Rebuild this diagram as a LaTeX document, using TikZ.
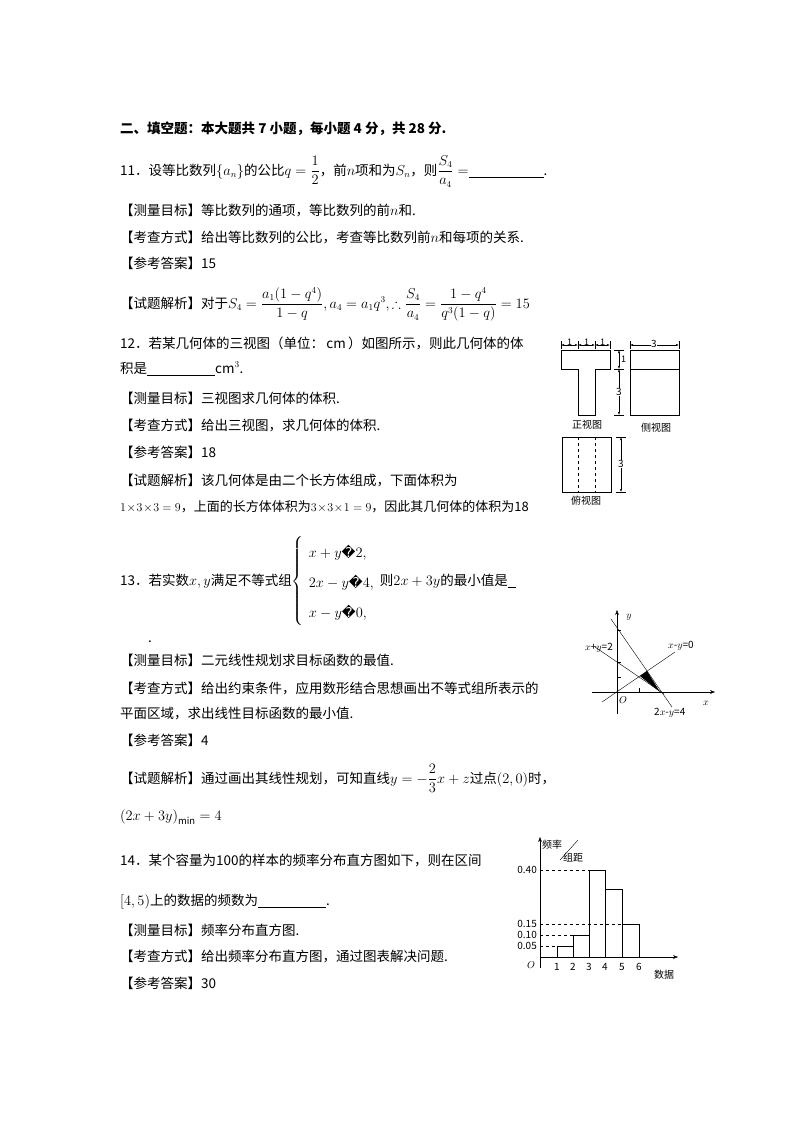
\documentclass[tikz,border=0pt]{standalone}
\usepackage{amsmath,amssymb}
\usepackage{fontspec}
\setmainfont{Noto Sans CJK SC}
\newfontfamily\symf{DejaVu Sans}
\usetikzlibrary{arrows.meta}
\newcommand{\rep}{\mbox{\symf\char"FFFD}}
\begin{document}
\begin{tikzpicture}[x=1pt,y=-1pt,
  txt/.style={anchor=base west,inner sep=0pt,font=\fontsize{13.5}{16}\selectfont},
  lab/.style={inner sep=0pt,font=\fontsize{10}{12}\selectfont},
  dim/.style={{Latex[length=3pt,width=2pt]}-{Latex[length=3pt,width=2pt]},thin},
  ax/.style={-{Stealth[length=5pt]},thin},
  thinline/.style={line width=0.7pt}]
\fill[white] (0,0) rectangle (800,1132);
\useasboundingbox (0,0) rectangle (800,1132);
% Text
\node[txt,font=\fontsize{13.5}{16}\selectfont\bfseries] (h) at (120,133) {二、填空题：本大题共 7 小题，每小题 4 分，共 28 分.};
\node[txt] (t11) at (120,175) {11．设等比数列$\{a_n\}$的公比$q=\dfrac{1}{2}$，前$n$项和为$S_n$，则$\dfrac{S_4}{a_4}=$\underline{\hspace{75pt}}.};
\node[txt] (a1) at (120,215) {【测量目标】等比数列的通项，等比数列的前$n$和.};
\node[txt] (a2) at (120,242) {【考查方式】给出等比数列的公比，考查等比数列前$n$和每项的关系.};
\node[txt] (a3) at (120,268) {【参考答案】15};
\node[txt] (a4) at (120,308) {【试题解析】对于$S_4=\dfrac{a_1(1-q^4)}{1-q},a_4=a_1q^3,\therefore\dfrac{S_4}{a_4}=\dfrac{1-q^4}{q^3(1-q)}=15$};
\node[txt] (t12) at (120,348) {12．若某几何体的三视图（单位：\,cm\,）如图所示，则此几何体的体};
\node[txt] (t12b) at (120,373) {积是\underline{\hspace{68pt}}cm$^3$.};
\node[txt] (b1) at (120,403) {【测量目标】三视图求几何体的体积.};
\node[txt] (b2) at (120,430) {【考查方式】给出三视图，求几何体的体积.};
\node[txt] (b3) at (120,457) {【参考答案】18};
\node[txt] (b4) at (120,485) {【试题解析】该几何体是由二个长方体组成，下面体积为};
\node[txt,font=\fontsize{13}{16}\selectfont] (b5) at (120,511) {$1\!\times\!3\!\times\!3=9$，上面的长方体体积为$3\!\times\!3\!\times\!1=9$，因此其几何体的体积为18};
\node[txt] (t13) at (120,585) {13．若实数$x,y$满足不等式组$\renewcommand{\arraystretch}{1.9}\left\{\begin{array}{l}x+y\rep 2,\\2x-y\rep 4,\\x-y\rep 0,\end{array}\right.$则$2x+3y$的最小值是\underline{\hspace{8pt}}};
\node[txt] (dot) at (148,642) {.};
\node[txt] (c1) at (120,665) {【测量目标】二元线性规划求目标函数的最值.};
\node[txt] (c2) at (120,693) {【考查方式】给出约束条件，应用数形结合思想画出不等式组所表示的};
\node[txt] (c3) at (120,718) {平面区域，求出线性目标函数的最小值.};
\node[txt] (c4) at (120,745) {【参考答案】4};
\node[txt] (c5) at (120,783) {【试题解析】通过画出其线性规划，可知直线$y=-\dfrac{2}{3}x+z$过点$\left(2,0\right)$时，};
\node[txt] (c6) at (120,820) {$\left(2x+3y\right)_{\min}=4$};
\node[txt] (t14) at (120,865) {14．某个容量为100的样本的频率分布直方图如下，则在区间};
\node[txt] (t14b) at (120,905) {$[4,5)$上的数据的频数为\underline{\hspace{68pt}}.};
\node[txt] (d1) at (120,935) {【测量目标】频率分布直方图.};
\node[txt] (d2) at (120,961) {【考查方式】给出频率分布直方图，通过图表解决问题.};
\node[txt] (d3) at (120,988) {【参考答案】30};
% Three views
\draw[thinline] (561,350) -- (610,350) -- (610,369) -- (595,369) -- (595,415) -- (578,415) -- (578,369) -- (561,369) -- cycle;
\foreach \a/\b in {561/578,578/595,595/610}{\draw[dim] (\a,345) -- (\b,345);}
\foreach \x in {561,578,595,610}{\draw[thin] (\x,341) -- (\x,349);}
\foreach \x in {569.5,586.5,602.5}{\node[lab,fill=white,font=\fontsize{9}{10}\selectfont] at (\x,342) {1};}
\draw[dim] (619,350) -- (619,369); \draw[dim] (619,369) -- (619,415);
\draw[thin] (614,350) -- (624,350); \draw[thin] (614,369) -- (624,369); \draw[thin] (614,415) -- (624,415);
\node[lab,anchor=west,font=\fontsize{9}{10}\selectfont] at (621,359) {1}; \node[lab,fill=white] at (619,392) {3};
\draw[thinline] (630,350) rectangle (679,415); \draw[thinline] (630,369) -- (679,369);
\draw[dim] (630,345) -- (679,345); \draw[thin] (630,341) -- (630,349); \draw[thin] (679,341) -- (679,349);
\node[lab,fill=white] at (654,344) {3};
\node[lab] (zv) at (587,425) {正视图}; \node[lab] (cv) at (656,428) {侧视图};
\draw[thinline] (562,437) rectangle (611,492);
\draw[dashed,thin] (578,437) -- (578,492); \draw[dashed,thin] (595,437) -- (595,492);
\draw[dim] (621,437) -- (621,492); \draw[thin] (616,437) -- (626,437); \draw[thin] (616,492) -- (626,492);
\node[lab,fill=white] at (621,464) {3};
\node[lab] (fv) at (586,501) {俯视图};
% Linear programming graph
\draw[ax] (592,692) -- (715,692); \draw[ax] (617,714) -- (617,610);
\draw[thin] (639,692) -- (639,688); \draw[thin] (617,677) -- (621,677); \draw[thin] (617,662) -- (621,662); \draw[thin] (617,630) -- (621,630);
\fill (640,676) -- (647,671) -- (660,692) -- cycle;
\draw[thin] (595,647) -- (664,694);
\draw[thin] (611,619) -- (672,707);
\draw[thin] (602,702) -- (675,652);
\node[lab,anchor=east] at (613,648) {$x$+$y$=2};
\node[lab,anchor=west] at (668,646) {$x$-$y$=0};
\node[lab,anchor=west] at (654,713) {2$x$-$y$=4};
\node[lab] at (629,617) {$y$}; \node[lab] at (706,703) {$x$}; \node[lab] at (623,700) {$O$};
% Histogram
\draw[ax] (540,957) -- (678,957); \draw[ax] (540,968) -- (540,837);
\draw[dashed,thin] (540,870) -- (589,870); \draw[dashed,thin] (540,924) -- (622,924);
\draw[dashed,thin] (540,935) -- (573,935); \draw[dashed,thin] (540,946) -- (557,946);
\draw[thinline] (557,957) -- (557,946) -- (573,946) -- (573,935) -- (589,935) -- (589,870) -- (605,870) -- (605,957);
\draw[thinline] (573,946) -- (573,957); \draw[thinline] (589,935) -- (589,957);
\draw[thinline] (605,889) -- (622,889) -- (622,957); \draw[thinline] (622,924) -- (639,924) -- (639,957);
\foreach \v/\y in {0.40/870,0.15/924,0.10/935,0.05/946}{\node[lab,anchor=east] at (537,\y) {\v};}
\node[lab] at (531,965) {$O$};
\foreach \i/\x in {1/557,2/573,3/589,4/605,5/622,6/639}{\node[lab] at (\x,967) {\i};}
\node[lab] at (664,975) {数据};
\node[lab] at (552,845) {频率}; \draw[thin] (560,860) -- (578,840); \node[lab] at (573,858) {组距};
\end{tikzpicture}
\end{document}
